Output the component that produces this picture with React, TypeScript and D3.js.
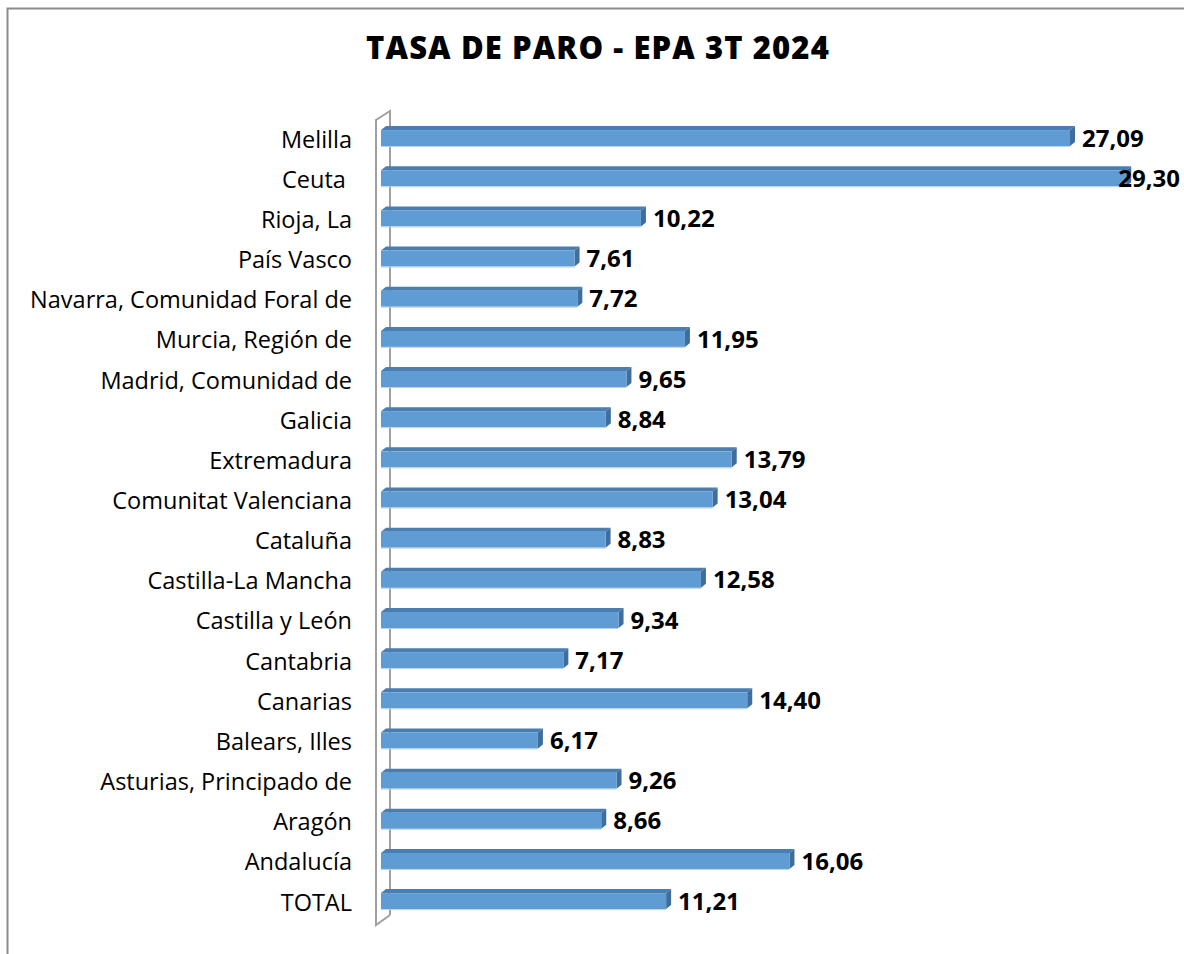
import React, { useEffect, useRef } from "react";
import * as d3 from "d3";

// Regions, listed top to bottom as in the chart.
const regions = [
  "Melilla",
  "Ceuta ",
  "Rioja, La",
  "País Vasco",
  "Navarra, Comunidad Foral de",
  "Murcia, Región de",
  "Madrid, Comunidad de",
  "Galicia",
  "Extremadura",
  "Comunitat Valenciana",
  "Cataluña",
  "Castilla-La Mancha",
  "Castilla y León",
  "Cantabria",
  "Canarias",
  "Balears, Illes",
  "Asturias, Principado de",
  "Aragón",
  "Andalucía",
  "TOTAL",
];

// Unemployment rate (%) per region.
const rates = [
  27.09, 29.3, 10.22, 7.61, 7.72, 11.95, 9.65, 8.84, 13.79, 13.04, 8.83, 12.58,
  9.34, 7.17, 14.4, 6.17, 9.26, 8.66, 16.06, 11.21,
];

const title = "TASA DE PARO - EPA 3T 2024";

const App = () => {
  const chartRef = useRef<SVGSVGElement>(null);

  useEffect(() => {
    const width = 1184;
    const height = 954;
    const font = "'Open Sans', Lato, sans-serif";

    const svg = d3.select(chartRef.current)
      .attr("width", width)
      .attr("height", height);

    svg.selectAll("*").remove();

    const data = regions.map((name, i) => ({ name, value: rates[i] }));

    // Outer frame of the chart area.
    svg.append("path")
      .attr("d", `M7.5,954 V8.5 H1184`)
      .attr("fill", "none")
      .attr("stroke", "#8c8c8c")
      .attr("stroke-width", 2);

    svg.append("text")
      .attr("x", 598)
      .attr("y", 59)
      .attr("text-anchor", "middle")
      .attr("font-family", font)
      .attr("font-weight", 800)
      .attr("font-size", 31)
      .attr("letter-spacing", 1.1)
      .attr("fill", "#000")
      .text(title);

    const xScale = d3.scaleLinear()
      .domain([0, 30])
      .range([381, 1144]);

    const yScale = d3.scaleBand()
      .domain(regions)
      .range([118, 921.2])
      .padding(0);

    const step = yScale.step();

    // 3D side wall of the category axis.
    svg.append("path")
      .attr("d", "M390,915 V111 L376,120 V925 L390,915")
      .attr("fill", "none")
      .attr("stroke", "#a0a0a0")
      .attr("stroke-width", 2);

    const barH = 16;
    const dx = 5;
    const dy = 4;
    const x0 = xScale(0);

    const rows = svg.append("g")
      .selectAll("g")
      .data(data)
      .join("g")
      .attr("transform", d => `translate(0, ${yScale(d.name)! + step / 2})`);

    // top face
    rows.append("path")
      .attr("d", d => {
        const x1 = xScale(d.value);
        return `M${x0},${-barH / 2} L${x0 + dx},${-barH / 2 - dy} L${x1 + dx},${-barH / 2 - dy} L${x1},${-barH / 2} Z`;
      })
      .attr("fill", "#4a7db0");

    // end cap
    rows.append("path")
      .attr("d", d => {
        const x1 = xScale(d.value);
        return `M${x1},${-barH / 2} L${x1 + dx},${-barH / 2 - dy} L${x1 + dx},${barH / 2 - dy} L${x1},${barH / 2} Z`;
      })
      .attr("fill", "#3f6e9c");

    // front face
    rows.append("rect")
      .attr("x", x0)
      .attr("y", -barH / 2)
      .attr("width", d => xScale(d.value) - x0)
      .attr("height", barH)
      .attr("fill", "#5e9cd3");

    // light lower edge
    rows.append("line")
      .attr("x1", x0)
      .attr("x2", d => xScale(d.value))
      .attr("y1", barH / 2 + 0.5)
      .attr("y2", barH / 2 + 0.5)
      .attr("stroke", "#b9d2ea")
      .attr("stroke-width", 1);

    // category labels
    rows.append("text")
      .attr("x", 352)
      .attr("y", 1)
      .attr("dy", "0.36em")
      .attr("text-anchor", "end")
      .attr("font-family", font)
      .attr("font-size", 23.5)
      .attr("fill", "#000")
      .style("white-space", "pre")
      .text(d => d.name);

    // value labels
    const fmt = (v: number) => d3.format(".2f")(v).replace(".", ",");
    const labelW = 68;
    rows.append("text")
      .attr("x", d => {
        const x = xScale(d.value) + 12;
        return x + labelW > width - 3 ? width - 4 : x;
      })
      .attr("text-anchor", d => (xScale(d.value) + 12 + labelW > width - 3 ? "end" : "start"))
      .attr("y", 0)
      .attr("dy", "0.36em")
      .attr("font-family", font)
      .attr("font-weight", "bold")
      .attr("font-size", 24)
      .attr("fill", "#000")
      .text(d => fmt(d.value));
  }, []);

  return (
    <svg
      ref={chartRef}
      style={{ position: "absolute", left: 0, top: 0, display: "block" }}
    ></svg>
  );
};

export default App;
